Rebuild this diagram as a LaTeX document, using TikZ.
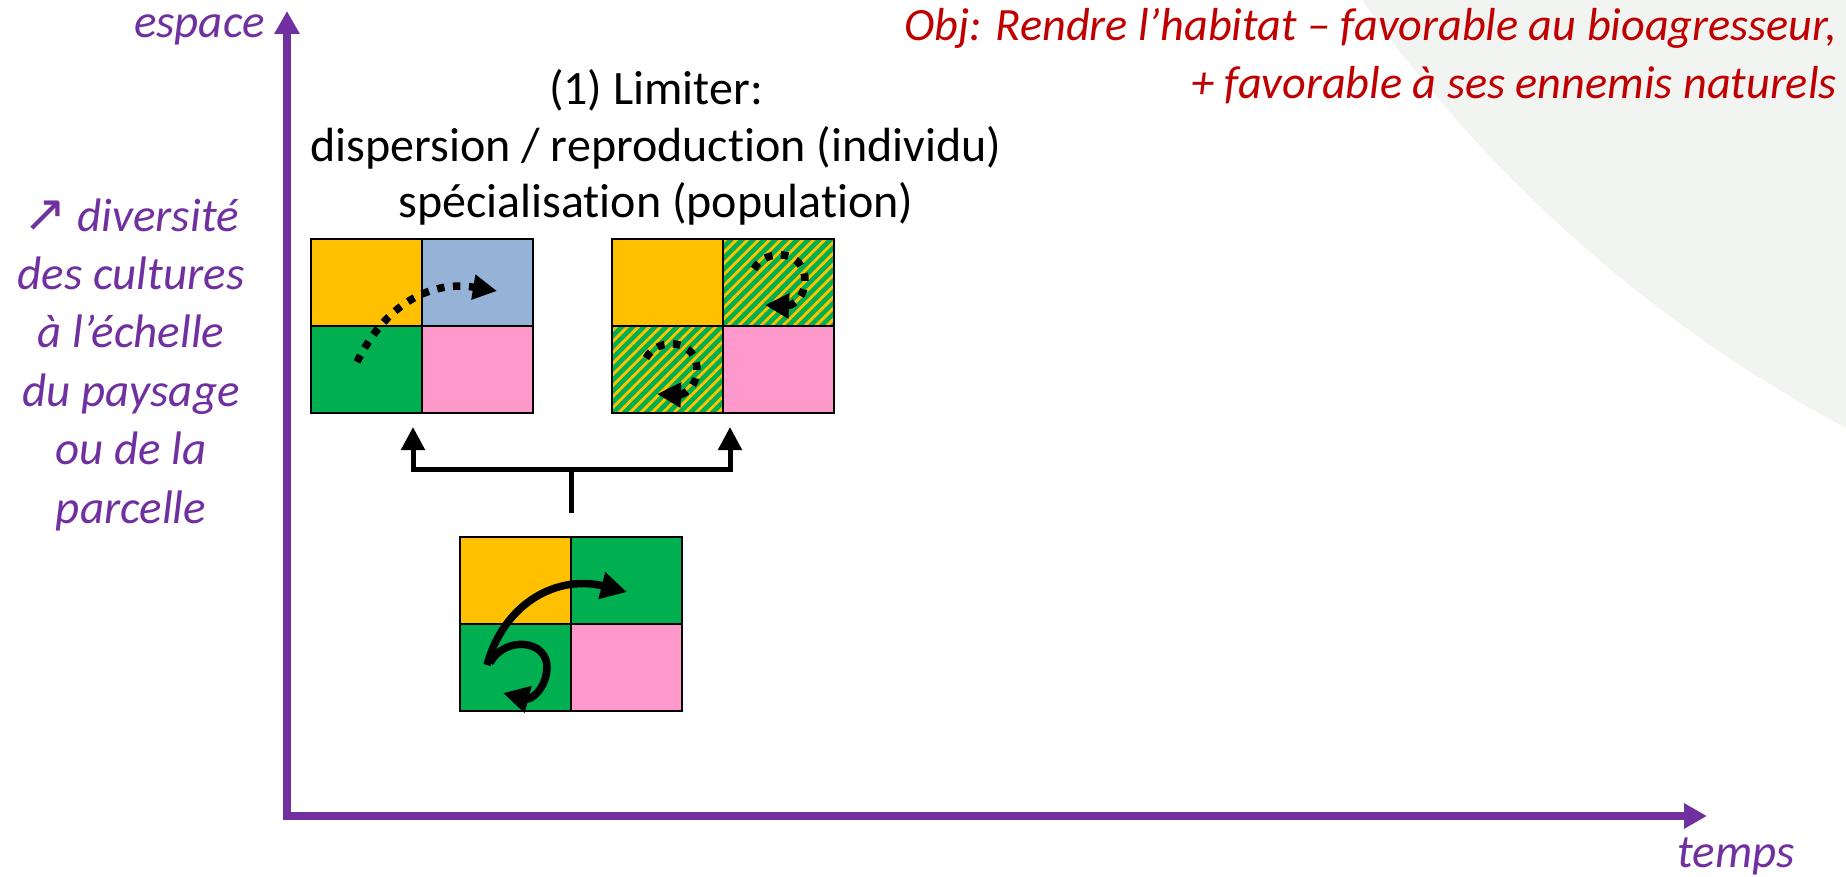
\documentclass[tikz,border=0pt]{standalone}
\usepackage{fontspec}
\setmainfont{Carlito}[Ligatures=NoCommon]
\newfontfamily\symfont{DejaVu Sans}
\usetikzlibrary{arrows.meta,patterns.meta,calc}
\definecolor{axpurple}{RGB}{112,48,160}
\definecolor{objred}{RGB}{192,0,0}
\definecolor{corange}{RGB}{255,192,0}
\definecolor{cblue}{RGB}{149,179,215}
\definecolor{cgreen}{RGB}{0,176,80}
\definecolor{cpink}{RGB}{255,153,204}
\definecolor{bggray}{RGB}{242,244,242}
\begin{document}
\begin{tikzpicture}[x=1pt,y=-1pt,
  cell/.style={draw=black,line width=2pt,minimum width=111pt,minimum height=87pt,inner sep=0pt,outer sep=0pt,anchor=north west},
  hatched/.style={cell,preaction={fill=cgreen},pattern={Lines[angle=45,distance=7.8pt,line width=2.9pt]},pattern color=corange},
  axis/.style={draw=axpurple,line width=7.5pt,line join=miter,{Triangle[length=23pt,width=24pt]}-{Triangle[length=23pt,width=24pt]}},
  axlabel/.style={text=axpurple,font=\fontsize{47}{58.4}\selectfont\itshape,inner sep=0pt},
  maintext/.style={text=black,font=\fontsize{48}{56.5}\selectfont,inner sep=0pt},
  objtext/.style={text=objred,font=\fontsize{46.3}{57.6}\selectfont\itshape,inner sep=0pt},
  conn/.style={draw=black,line width=5pt,line join=miter},
  connarr/.style={conn,-{Triangle[length=23pt,width=23pt]}},
  dotarr/.style={draw=black,line width=7.5pt,dash pattern=on 7.5pt off 8.5pt,-{Triangle[length=24pt,width=24pt]}},
  solidarr/.style={draw=black,line width=7.5pt,-{Triangle[length=26pt,width=26pt]}}]
\useasboundingbox (0,0) rectangle (1846,877);
\begin{scope}
  \clip (0,0) rectangle (1846,877);
  \fill[bggray] (2500,-800) circle[radius=1391pt];
\end{scope}

% axes
\coordinate (O) at (287,816);
\coordinate (Ytip) at (287,11);
\coordinate (Xtip) at (1707,816);
\draw[axis] (Ytip) -- (O) -- (Xtip);
\node[axlabel,anchor=base east] (esp) at (265,38) {espace};
\node[axlabel,anchor=base] (tmp) at (1736,867) {temps};
\node[axlabel,align=center,anchor=base] (div) at (131,523)
  {{\symfont\upshape\fontsize{52}{58.4}\selectfont ↗} diversité\\des cultures\\à l’échelle\\du paysage\\ou de la\\parcelle};

% objective
\node[objtext,align=right,anchor=base east] (obj) at (1837,98.3)
  {Obj: Rendre l’habitat – favorable au bioagresseur,\\+ favorable à ses ennemis naturels};

% title
\node[maintext,align=center,anchor=base] (lim) at (656,218)
  {(1) Limiter:\\dispersion / reproduction (individu)\\spécialisation (population)};

% grid 1
\node[cell,fill=corange] (g1tl) at (311,239) {};
\node[cell,fill=cblue]   (g1tr) at (422,239) {};
\node[cell,fill=cgreen]  (g1bl) at (311,326) {};
\node[cell,fill=cpink]   (g1br) at (422,326) {};
% grid 2
\node[cell,fill=corange] (g2tl) at (612,239) {};
\node[hatched]           (g2tr) at (723,239) {};
\node[hatched]           (g2bl) at (612,326) {};
\node[cell,fill=cpink]   (g2br) at (723,326) {};
% grid 3
\node[cell,fill=corange] (g3tl) at (460,537) {};
\node[cell,fill=cgreen]  (g3tr) at (571,537) {};
\node[cell,fill=cgreen]  (g3bl) at (460,624) {};
\node[cell,fill=cpink]   (g3br) at (571,624) {};

% connectors
\coordinate (stemb) at ($(g3tl.north east)+(0,-24)$);
\coordinate (fork) at (571,469);
\coordinate (tipL) at (413,427);
\coordinate (tipR) at (730,427);
\draw[conn] (stemb) -- (fork);
\draw[connarr] (fork) -| (tipL);
\draw[connarr] (fork) -| (tipR);

% movements
\draw[dotarr] (357,362) .. controls (385,305) and (430,280) .. (497,291);
\draw[dotarr] (754,269) .. controls (766,247) and (806,250) .. (805,282) .. controls (804,300) and (790,306) .. (765,305);
\draw[dotarr,shift={(-108,89)}] (754,269) .. controls (766,247) and (806,250) .. (805,282) .. controls (804,300) and (790,306) .. (765,305);
\draw[solidarr] (487,665) .. controls (505,600) and (560,575) .. (627,592);
\draw[solidarr] (490,663) .. controls (505,635) and (548,640) .. (547,668) .. controls (546,690) and (530,700) .. (503,693);
\end{tikzpicture}
\end{document}
